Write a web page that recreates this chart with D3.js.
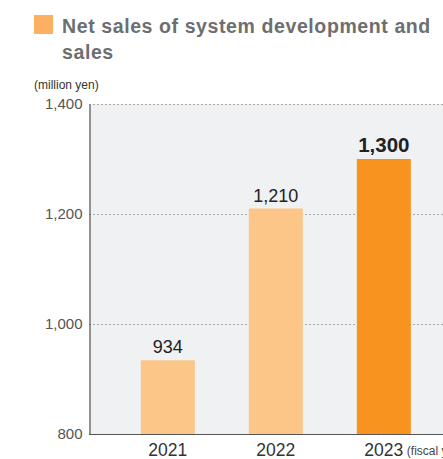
<!DOCTYPE html>
<html><head><meta charset="utf-8">
<script src="https://cdn.jsdelivr.net/npm/d3@7"></script>
<style>body{margin:0;background:#fff;}svg{display:block;font-family:"Liberation Sans",Arial,sans-serif;}</style>
</head><body>
<script>
const years = ["2021","2022","2023"];
const netSales = [934, 1210, 1300];
const yTicks = [800, 1000, 1200, 1400];
const titleLines = ["Net sales of system development and", "sales"];
const unitLabel = "(million yen)";
const periodLabel = "(fiscal year)";

const W = 443, H = 459;
const svg = d3.select("body").append("svg").attr("width", W).attr("height", H);

const x0 = 89, yBottom = 434, yTop = 104;
const y = d3.scaleLinear().domain([800, 1400]).range([yBottom, yTop]);
const x = d3.scaleBand().domain(years).range([x0, x0 + 108*3.46]).paddingInner(0.5).paddingOuter(0.48);

// background
svg.append("rect").attr("x", x0).attr("y", yTop).attr("width", W - x0).attr("height", yBottom - yTop).attr("fill", "#f0f1f3");

// grid
svg.append("g").selectAll("line").data(yTicks.filter(d => d > 800)).join("line")
  .attr("x1", x0).attr("x2", W).attr("y1", d => y(d)+0.5).attr("y2", d => y(d)+0.5)
  .attr("stroke", "#a9a9a9").attr("stroke-width", 1).attr("stroke-dasharray", "2,2");

// bars
svg.append("g").selectAll("rect").data(years).join("rect")
  .attr("x", d => x(d)).attr("width", x.bandwidth())
  .attr("y", (d,i) => y(netSales[i])).attr("height", (d,i) => yBottom - y(netSales[i]))
  .attr("fill", (d,i) => i === years.length-1 ? "#f7931e" : "#fbc688");

// value labels
svg.append("g").selectAll("text").data(years).join("text")
  .attr("x", d => x(d) + x.bandwidth()/2).attr("y", (d,i) => y(netSales[i]) - 7)
  .attr("text-anchor", "middle")
  .attr("font-size", (d,i) => i === years.length-1 ? 20.5 : 18)
  .attr("font-weight", (d,i) => i === years.length-1 ? "bold" : "normal")
  .attr("fill", "#222")
  .text((d,i) => d3.format(",")(netSales[i]));

// axes
const yAxis = d3.axisLeft(y).tickValues(yTicks).tickFormat(d3.format(",")).tickSize(0).tickPadding(7);
const gy = svg.append("g").attr("transform", `translate(${x0+0.5},0)`).call(yAxis);
gy.select(".domain").attr("stroke", "#555").attr("stroke-width", 1.2);
gy.selectAll("text").attr("font-size", 15).attr("fill", "#555").attr("font-family", "Liberation Sans, Arial, sans-serif");

const xAxis = d3.axisBottom(x).tickSize(0).tickPadding(0);
const gx = svg.append("g").attr("transform", `translate(0,${yBottom+0.5})`).call(xAxis);
gx.select(".domain").remove();
svg.append("line").attr("x1", x0).attr("x2", W).attr("y1", yBottom+0.5).attr("y2", yBottom+0.5).attr("stroke", "#555").attr("stroke-width", 1.2);
gx.selectAll("text").attr("dy", null).attr("y", 21).attr("font-size", 17.5).attr("fill", "#333").attr("font-family", "Liberation Sans, Arial, sans-serif");

// fiscal year label
svg.append("text").attr("x", x("2023") + x.bandwidth()/2 + 23).attr("y", 455)
  .attr("font-size", 12).attr("fill", "#444").attr("font-family", "Liberation Sans Narrow, Liberation Sans, sans-serif")
  .text(periodLabel);

// unit label
svg.append("text").attr("x", 34).attr("y", 89).attr("font-size", 12).attr("fill", "#333")
  .text(unitLabel);

// title
svg.append("rect").attr("x", 34).attr("y", 15).attr("width", 19).attr("height", 19).attr("fill", "#fdb062");
svg.append("g").selectAll("text").data(titleLines).join("text")
  .attr("x", 62).attr("y", (d,i) => 33 + i*26)
  .attr("font-size", 19.5).attr("font-weight", "bold").attr("letter-spacing", 0.6).attr("fill", "#6d6e70").text(d => d);
</script>
</body></html>
